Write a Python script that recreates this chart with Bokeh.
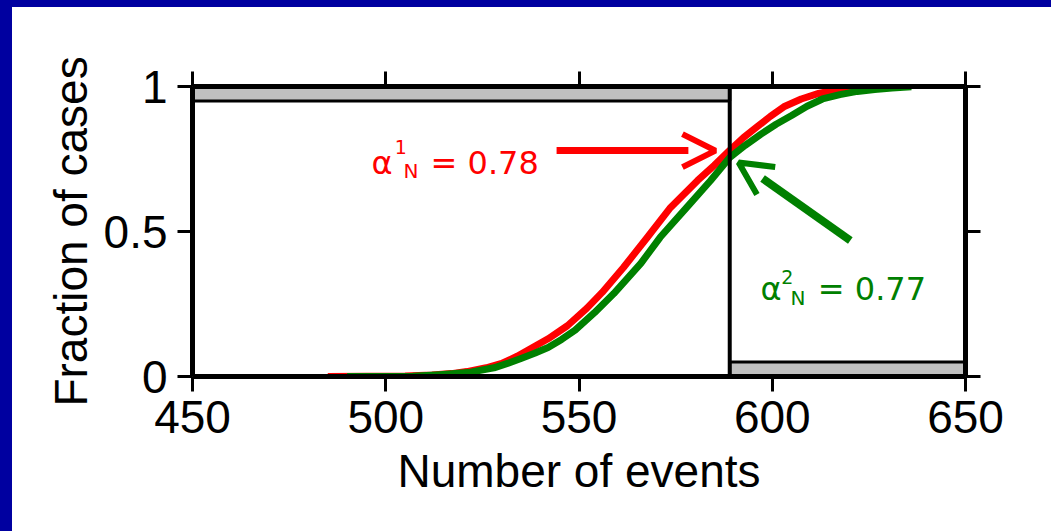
from bokeh.plotting import figure
from bokeh.models import (Range1d, LinearAxis, FixedTicker, CustomJSTickFormatter,
                          Span, Arrow, OpenHead, Div)
from bokeh.layouts import column, row
from bokeh.core.properties import value
from bokeh.embed import file_html
from bokeh.resources import INLINE

# ---------------- data ----------------
x_ticks = [450, 500, 550, 600, 650]
y_ticks = [0, 0.5, 1]
y_tick_labels = ["0", "0.5", "1"]

red_x = [485, 505, 512, 517, 521, 526, 530, 534, 538, 542, 547, 552, 556, 561.5,
         567.7, 573.7, 580.7, 585, 589, 592.5, 596, 599.5, 603, 607.5, 612, 616,
         620, 625]
red_y = [0.0, 0.002, 0.005, 0.01, 0.017, 0.03, 0.045, 0.07, 0.10, 0.13, 0.175, 0.235,
         0.29, 0.376, 0.48, 0.583, 0.676, 0.728, 0.78, 0.823, 0.86, 0.897, 0.93,
         0.957, 0.976, 0.987, 0.994, 0.999]

green_x = [490, 507, 514, 518, 522, 528, 531.5, 535, 538.5, 542, 545.5, 549, 554,
           559, 566, 571, 578, 584, 589, 593, 597, 601, 605, 609, 613, 617.5, 622,
           626.5, 631, 636]
green_y = [0.0, 0.001, 0.006, 0.01, 0.015, 0.03, 0.045, 0.062, 0.08, 0.10, 0.128,
           0.16, 0.22, 0.286, 0.39, 0.48, 0.585, 0.675, 0.755, 0.797, 0.835, 0.87,
           0.90, 0.932, 0.957, 0.972, 0.983, 0.99, 0.995, 0.999]

threshold = 589
band_low = [0.0, 0.05]     # lower gray band (x >= threshold)
band_high = [0.95, 1.0]    # upper gray band (x <= threshold)

alpha1 = 0.78
alpha2 = 0.77

# ---------------- figure ----------------
BLUE = "#0000a0"
AX_FONT = "Liberation Sans"
ANN_FONT = "DejaVu Sans"

p = figure(width=1039, height=524, output_backend="svg", toolbar_location=None,
           x_range=Range1d(450, 650), y_range=Range1d(0, 1),
           x_axis_location=None, y_axis_location=None,
           min_border_left=180, min_border_right=86, min_border_top=79,
           min_border_bottom=155)
p.margin = 0
p.outline_line_color = None
p.xgrid.visible = False
p.ygrid.visible = False
p.background_fill_color = "white"
p.border_fill_color = "white"

blank = CustomJSTickFormatter(code="return ''")


def style_axis(ax, labels=True):
    ax.axis_line_width = 5
    ax.axis_line_color = "black"
    ax.major_tick_line_width = 3
    ax.major_tick_line_color = "black"
    ax.major_tick_out = 15
    ax.major_tick_in = 0
    ax.minor_tick_line_color = None
    ax.major_label_text_font = AX_FONT
    ax.major_label_text_font_size = "46px"
    ax.major_label_text_color = "black"
    ax.axis_label_text_font = AX_FONT
    ax.axis_label_text_font_size = "46px"
    ax.axis_label_text_font_style = "normal"
    ax.axis_label_text_color = "black"
    if not labels:
        ax.formatter = blank


xb = LinearAxis(ticker=FixedTicker(ticks=x_ticks), axis_label="Number of events")
style_axis(xb)
xb.major_label_standoff = 9
xb.axis_label_standoff = 9
p.add_layout(xb, "below")

xt = LinearAxis(ticker=FixedTicker(ticks=x_ticks))
style_axis(xt, labels=False)
p.add_layout(xt, "above")

yl = LinearAxis(ticker=FixedTicker(ticks=y_ticks), axis_label="Fraction of cases")
style_axis(yl)
yl.major_label_overrides = {t: s for t, s in zip(y_ticks, y_tick_labels)}
yl.major_label_standoff = 10
yl.axis_label_standoff = 4
p.add_layout(yl, "left")

yr = LinearAxis(ticker=FixedTicker(ticks=y_ticks))
style_axis(yr, labels=False)
p.add_layout(yr, "right")

# gray bands
p.quad(left=[450], right=[threshold], bottom=[band_high[0]], top=[band_high[1]],
       fill_color="#c0c0c0", line_color="black", line_width=3)
p.quad(left=[threshold], right=[650], bottom=[band_low[0]], top=[band_low[1]],
       fill_color="#c0c0c0", line_color="black", line_width=3)

# threshold line
p.add_layout(Span(location=threshold, dimension="height", line_color="black",
                  line_width=4))

# CDF curves
p.line(red_x, red_y, line_color="#ff0000", line_width=7, line_join="round")
p.line(green_x, green_y, line_color="#008000", line_width=7, line_join="round")

# ---------------- annotations ----------------
RED = "#ff0000"
GREEN = "#008000"


def greek_label(x0, y0, xs, ys, xn, yn, xe, sup, val, color):
    p.text(x=[x0], y=[y0], text=["\u03b1"], text_font=value(ANN_FONT),
           text_font_size="32px", text_color=color, text_baseline="alphabetic")
    p.text(x=[xs], y=[ys], text=[sup], text_font=value(ANN_FONT),
           text_font_size="19px", text_color=color, text_baseline="alphabetic")
    p.text(x=[xn], y=[yn], text=["N"], text_font=value(ANN_FONT),
           text_font_size="20px", text_color=color, text_baseline="alphabetic")
    p.text(x=[xe], y=[y0], text=["= %.2f" % val], text_font=value(ANN_FONT),
           text_font_size="32px", text_color=color, text_baseline="alphabetic")


greek_label(496.3, 0.7345, 502.3, 0.790, 504.6, 0.710, 511.6, "1", alpha1, RED)
greek_label(596.96, 0.3034, 602.3, 0.3414, 604.7, 0.2724, 611.8, "2", alpha2, GREEN)

# red arrow
p.segment(x0=[544.2], y0=[0.779], x1=[578.3], y1=[0.779], line_color=RED, line_width=7)
p.add_layout(Arrow(x_start=580.0, y_start=0.779, x_end=585.3, y_end=0.779,
                   line_alpha=0,
                   end=OpenHead(size=33, line_width=6, line_color=RED)))

# green arrow
p.segment(x0=[620.2], y0=[0.469], x1=[597.5], y1=[0.683], line_color=GREEN,
          line_width=8)
p.add_layout(Arrow(x_start=597.5, y_start=0.683, x_end=591.3, y_end=0.738,
                   line_alpha=0,
                   end=OpenHead(size=33, line_width=6, line_color=GREEN)))

# ---------------- page layout with blue frame ----------------
top_bar = Div(text="", width=1051, height=7, margin=0,
              styles={"background-color": BLUE})
left_bar = Div(text="", width=12, height=524, margin=0,
               styles={"background-color": BLUE})
layout = column(top_bar, row(left_bar, p, spacing=0, margin=0), spacing=0, margin=0)

open("out.html", "w").write(file_html(layout, INLINE))
